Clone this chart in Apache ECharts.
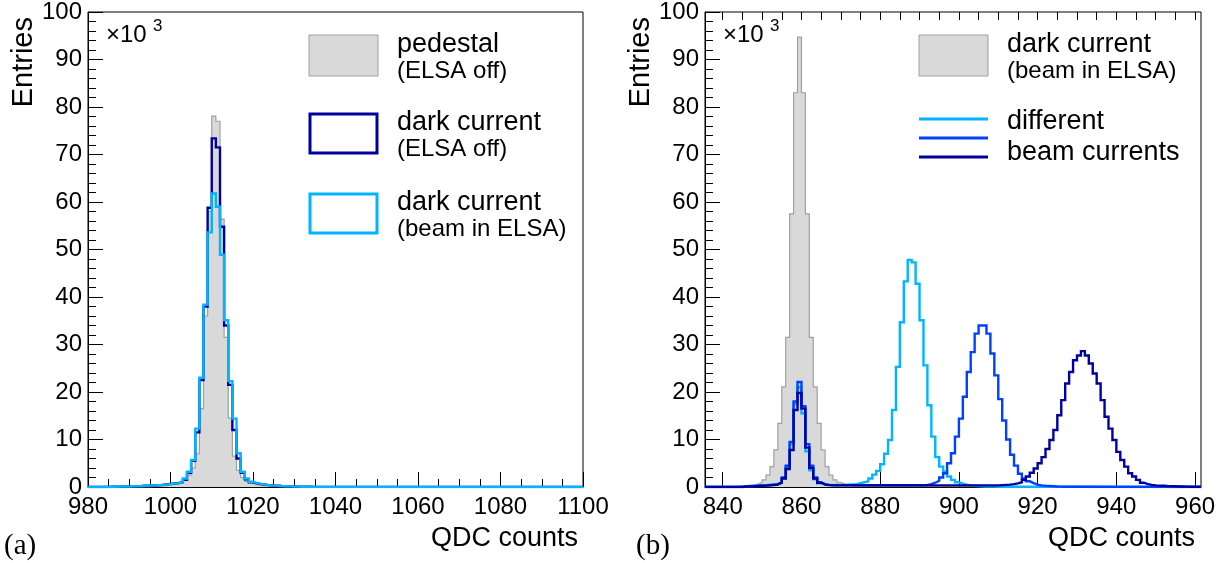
<!DOCTYPE html>
<html>
<head>
<meta charset="utf-8">
<title>QDC spectra</title>
<script src="https://cdn.jsdelivr.net/npm/echarts@6/dist/echarts.min.js"></script>
<style>
  html, body { margin: 0; padding: 0; background: #fff; }
  #chart { width: 1227px; height: 563px; }
</style>
</head>
<body>
<div id="chart"></div>
<script>
// ---- Panel (a): pedestal and dark current, bins [n, n+1) of width 1 (entries / 1000)
const aRange = [980, 1100];
const aTicks = { major: 20, minorSplit: 4 };
const pedestalFirstEdge = 995;
const pedestal = [0.1, 0.15, 0.2, 0.3, 0.4, 0.5, 0.7, 1.0, 1.5, 2.5,
  4.0, 7.0, 16.5, 36.0, 58.0, 78.1, 77.0, 56.4, 31.5, 14.5,
  6.5, 3.5, 2.0, 1.2, 0.8, 0.5, 0.35, 0.25, 0.15, 0.1, 0.05];
const darkOffFirstEdge = 985;
const darkOff = [0.05, 0.06, 0.08, 0.1, 0.12, 0.15, 0.18, 0.2, 0.25, 0.3,
  0.35, 0.4, 0.45, 0.55, 0.65, 0.75, 0.85, 1.0, 1.5, 3.0,
  5.5, 11.5, 22.5, 38.0, 58.8, 73.4, 71.5, 54.8, 34.0, 21.5,
  12.0, 6.0, 3.0, 1.6, 1.0, 0.75, 0.6, 0.5, 0.4, 0.32,
  0.26, 0.2, 0.16, 0.13, 0.1, 0.08, 0.06, 0.05, 0.04, 0.03, 0.02];
const darkBeamFirstEdge = 985;
const darkBeam = [0.05, 0.06, 0.08, 0.1, 0.12, 0.15, 0.18, 0.2, 0.25, 0.3,
  0.35, 0.4, 0.45, 0.5, 0.6, 0.7, 0.8, 1.1, 1.8, 3.2,
  5.7, 12.3, 23.0, 38.4, 53.6, 61.8, 59.0, 48.9, 35.1, 22.3,
  14.4, 7.1, 3.2, 1.8, 1.1, 0.8, 0.65, 0.5, 0.4, 0.32,
  0.26, 0.2, 0.16, 0.13, 0.1, 0.08, 0.06, 0.05, 0.04, 0.03, 0.02];

// ---- Panel (b): dark current with beam and three beam currents, bins [n, n+1)
const bRange = [835.5, 961.5];
const bMajorTicks = [840, 860, 880, 900, 920, 940, 960];
const bMinorTicks = [840, 845, 850, 855, 860, 865, 870, 875, 880, 885, 890, 895, 900,
  905, 910, 915, 920, 925, 930, 935, 940, 945, 950, 955, 960];
const beamPedFirstEdge = 842;
const beamPed = [0.1, 0.15, 0.2, 0.25, 0.35, 0.45, 0.6, 1.0, 1.5, 2.5,
  4.3, 7.8, 13.4, 21.1, 31.5, 57.5, 83.0, 94.7, 83.0, 57.5,
  31.5, 21.1, 13.4, 7.8, 4.3, 2.5, 1.5, 1.0, 0.6, 0.4, 0.3, 0.2, 0.1];
const currLowFirstEdge = 845;
const currLow = [0.15, 0.2, 0.25, 0.3, 0.35, 0.4, 0.5, 0.55, 0.6, 0.9,
  1.8, 4.2, 9.0, 17.5, 21.0, 15.5, 7.5, 3.5, 1.6, 0.8,
  0.55, 0.45, 0.45, 0.45, 0.45, 0.45, 0.5, 0.55, 0.6, 0.8,
  1.0, 1.2, 1.8, 2.6, 3.4, 4.8, 7.0, 9.9, 16.2, 25.3,
  34.7, 43.3, 47.8, 47.3, 42.8, 35.1, 25.6, 17.2, 10.6, 6.3,
  4.3, 3.2, 2.2, 1.5, 1.0, 0.7, 0.5, 0.35, 0.25, 0.2,
  0.15, 0.12, 0.1, 0.08, 0.06, 0.05];
const currMidFirstEdge = 845;
const currMid = [0.1, 0.12, 0.15, 0.2, 0.25, 0.3, 0.4, 0.5, 0.6, 1.0,
  2.0, 4.5, 9.5, 18.0, 22.1, 17.0, 9.0, 4.5, 2.0, 1.0,
  0.6, 0.45, 0.4, 0.4, 0.4, 0.4, 0.4, 0.4, 0.4, 0.4,
  0.4, 0.4, 0.4, 0.4, 0.4, 0.4, 0.4, 0.4, 0.4, 0.4,
  0.4, 0.4, 0.4, 0.4, 0.4, 0.4, 0.45, 0.6, 0.9, 1.3,
  2.0, 2.9, 5.0, 7.1, 10.6, 14.4, 19.0, 24.2, 28.4, 32.3,
  34.0, 34.0, 32.3, 28.1, 23.5, 18.5, 14.0, 10.0, 6.8, 4.5,
  2.8, 1.8, 1.2, 0.8, 0.5, 0.35, 0.25, 0.2, 0.15, 0.1,
  0.08, 0.06, 0.05];
const currHighFirstEdge = 845;
const currHigh = [0.1, 0.12, 0.15, 0.2, 0.25, 0.3, 0.35, 0.4, 0.5, 0.9,
  1.8, 3.8, 7.8, 16.2, 19.8, 16.5, 8.3, 4.0, 1.8, 0.9,
  0.5, 0.4, 0.35, 0.35, 0.35, 0.35, 0.35, 0.35, 0.35, 0.35,
  0.35, 0.35, 0.35, 0.35, 0.35, 0.35, 0.35, 0.35, 0.35, 0.35,
  0.35, 0.35, 0.35, 0.35, 0.35, 0.35, 0.35, 0.35, 0.35, 0.35,
  0.35, 0.35, 0.35, 0.35, 0.35, 0.35, 0.35, 0.35, 0.35, 0.35,
  0.35, 0.35, 0.35, 0.35, 0.35, 0.4, 0.45, 0.5, 0.6, 0.75,
  1.0, 1.5, 2.2, 3.0, 3.9, 5.0, 6.3, 8.0, 9.9, 12.0,
  15.1, 18.3, 21.8, 24.2, 26.7, 27.7, 28.6, 27.7, 26.0, 23.9,
  21.8, 18.3, 14.8, 12.3, 9.9, 7.4, 5.7, 4.3, 2.9, 2.2,
  1.5, 0.9, 0.6, 0.45, 0.35, 0.3, 0.25, 0.2, 0.18, 0.15,
  0.12, 0.1, 0.08, 0.06, 0.05, 0.04];

const yRange = [0, 100];
const yLabelTicks = 10;

// ---- colours
const COL = {
  fill: '#d9d9d9', fillEdge: '#a0a0a0',
  navy: '#0000a0', azure: '#0040ff', sky: '#00b4ff', text: '#000'
};
const SANS = '"Liberation Sans", Arial, Helvetica, sans-serif';
const SERIF = '"Liberation Serif", "DejaVu Serif", serif';

// Step outline: one point per lower bin edge, padded with empty bins out to the axis range.
function stepPoints(firstEdge, counts, range) {
  const pts = [[range[0], 0]];
  counts.forEach((c, i) => pts.push([firstEdge + i, c]));
  pts.push([firstEdge + counts.length, 0]);
  pts.push([range[1], 0]);
  return pts;
}

function histSeries(name, pts, axisIdx, color, width, fill) {
  const s = {
    name, type: 'line', step: 'end', data: pts,
    xAxisIndex: axisIdx.x, yAxisIndex: axisIdx.y,
    showSymbol: false, symbol: 'none', silent: true, animation: false,
    lineStyle: { color, width, join: 'miter' }
  };
  if (fill) s.areaStyle = { color: fill, opacity: 1 };
  return s;
}

const plain = v => String(v);

function yAxisDef(gridIndex) {
  return {
    type: 'value', gridIndex, min: yRange[0], max: yRange[1], interval: yLabelTicks,
    axisLine: { show: true, lineStyle: { color: '#000', width: 1 } },
    axisTick: { show: true, inside: true, length: 15, lineStyle: { color: '#000', width: 1 } },
    minorTick: { show: true, splitNumber: 5, length: 8, lineStyle: { color: '#000', width: 1 } },
    axisLabel: { color: COL.text, fontSize: 24, fontFamily: SANS, margin: 6, formatter: plain },
    splitLine: { show: false }
  };
}

const axisLabelStyle = { color: COL.text, fontSize: 24, fontFamily: SANS, margin: 8, formatter: plain };

const option = {
  animation: false,
  backgroundColor: '#fff',
  grid: [
    { left: 88, top: 11, width: 495, height: 476, show: true, borderColor: '#000', borderWidth: 1, backgroundColor: 'transparent' },
    { left: 705, top: 11, width: 496, height: 476, show: true, borderColor: '#000', borderWidth: 1, backgroundColor: 'transparent' }
  ],
  xAxis: [
    {
      type: 'value', gridIndex: 0, min: aRange[0], max: aRange[1], interval: aTicks.major,
      axisLine: { show: true, lineStyle: { color: '#000', width: 1 } },
      axisTick: { show: true, inside: true, length: 15, lineStyle: { color: '#000', width: 1 } },
      minorTick: { show: true, splitNumber: aTicks.minorSplit, length: 8, lineStyle: { color: '#000', width: 1 } },
      axisLabel: axisLabelStyle,
      splitLine: { show: false }
    },
    {
      type: 'value', gridIndex: 1, min: bRange[0], max: bRange[1],
      axisLine: { show: true, lineStyle: { color: '#000', width: 1 } },
      axisTick: { show: true, inside: true, length: 15, customValues: bMajorTicks, lineStyle: { color: '#000', width: 1 } },
      axisLabel: Object.assign({ customValues: bMajorTicks }, axisLabelStyle),
      splitLine: { show: false }
    },
    {
      type: 'value', gridIndex: 1, min: bRange[0], max: bRange[1],
      axisLine: { show: false },
      axisTick: { show: true, inside: true, length: 8, customValues: bMinorTicks, lineStyle: { color: '#000', width: 1 } },
      axisLabel: { show: false },
      splitLine: { show: false }
    }
  ],
  yAxis: [yAxisDef(0), yAxisDef(1)],
  series: [
    histSeries('pedestal (ELSA off)', stepPoints(pedestalFirstEdge, pedestal, aRange), { x: 0, y: 0 }, COL.fillEdge, 1.2, COL.fill),
    histSeries('dark current (ELSA off)', stepPoints(darkOffFirstEdge, darkOff, aRange), { x: 0, y: 0 }, COL.navy, 2.4),
    histSeries('dark current (beam in ELSA)', stepPoints(darkBeamFirstEdge, darkBeam, aRange), { x: 0, y: 0 }, COL.sky, 2.4),

    histSeries('dark current (beam in ELSA) b', stepPoints(beamPedFirstEdge, beamPed, bRange), { x: 1, y: 1 }, COL.fillEdge, 1.2, COL.fill),
    histSeries('beam current 1', stepPoints(currLowFirstEdge, currLow, bRange), { x: 1, y: 1 }, COL.sky, 2.4),
    histSeries('beam current 2', stepPoints(currMidFirstEdge, currMid, bRange), { x: 1, y: 1 }, COL.azure, 2.4),
    histSeries('beam current 3', stepPoints(currHighFirstEdge, currHigh, bRange), { x: 1, y: 1 }, COL.navy, 2.4)
  ],
  graphic: []
};

// ---- axis titles, exponent and panel tags
function txt(x, y, text, font, align, vAlign, extra) {
  return Object.assign({
    type: 'text', x, y, silent: true,
    style: { text, font, fill: COL.text, align: align || 'left', verticalAlign: vAlign || 'middle' }
  }, extra || {});
}
const panels = [
  { dx: 0, tag: '(a)', tagX: 4 },
  { dx: 617, tag: '(b)', tagX: 636 }
];
panels.forEach(p => {
  option.graphic.push(
    txt(24 + p.dx, 17, 'Entries', '29px ' + SANS, 'right', 'middle', { rotation: Math.PI / 2 }),
    txt(578 + p.dx, 539, 'QDC counts', '27px ' + SANS, 'right', 'middle'),
    txt(106 + p.dx, 35, '\u00d710', '24px ' + SANS, 'left', 'middle'),
    txt(153 + p.dx, 26, '3', '17px ' + SANS, 'left', 'middle'),
    txt(p.tagX, 546, p.tag, '29px ' + SERIF, 'left', 'middle')
  );
});

// ---- legend of panel (a)
const legA = [
  { y: 35, box: { fill: COL.fill, stroke: COL.fillEdge, lineWidth: 1 }, l1: 'pedestal', l2: '(ELSA off)' },
  { y: 113, box: { fill: 'none', stroke: COL.navy, lineWidth: 3 }, l1: 'dark current', l2: '(ELSA off)' },
  { y: 193, box: { fill: 'none', stroke: COL.sky, lineWidth: 3 }, l1: 'dark current', l2: '(beam in ELSA)' }
];
legA.forEach(e => {
  const inset = e.box.lineWidth > 1 ? 1 : 0;
  option.graphic.push({
    type: 'rect', silent: true,
    shape: { x: 309 + inset, y: e.y + inset, width: 69 - 2 * inset, height: 41 - 2 * inset },
    style: e.box
  });
  option.graphic.push(
    txt(397, e.y + 10, e.l1, '27px ' + SANS, 'left', 'middle'),
    txt(397, e.y + 36, e.l2, '24px ' + SANS, 'left', 'middle')
  );
});

// ---- legend of panel (b)
option.graphic.push({
  type: 'rect', silent: true,
  shape: { x: 919, y: 35, width: 69, height: 41 },
  style: { fill: COL.fill, stroke: COL.fillEdge, lineWidth: 1 }
});
option.graphic.push(
  txt(1007, 45, 'dark current', '27px ' + SANS, 'left', 'middle'),
  txt(1007, 71, '(beam in ELSA)', '24px ' + SANS, 'left', 'middle')
);
[[119, COL.sky], [138, COL.azure], [157, COL.navy]].forEach(([y, c]) => {
  option.graphic.push({
    type: 'line', silent: true,
    shape: { x1: 919, y1: y, x2: 988, y2: y },
    style: { stroke: c, lineWidth: 3 }
  });
});
option.graphic.push(
  txt(1007, 122, 'different', '27px ' + SANS, 'left', 'middle'),
  txt(1007, 153, 'beam currents', '27px ' + SANS, 'left', 'middle')
);

const chart = echarts.init(document.getElementById('chart'), null, { renderer: 'canvas' });
chart.setOption(option);
</script>
</body>
</html>
